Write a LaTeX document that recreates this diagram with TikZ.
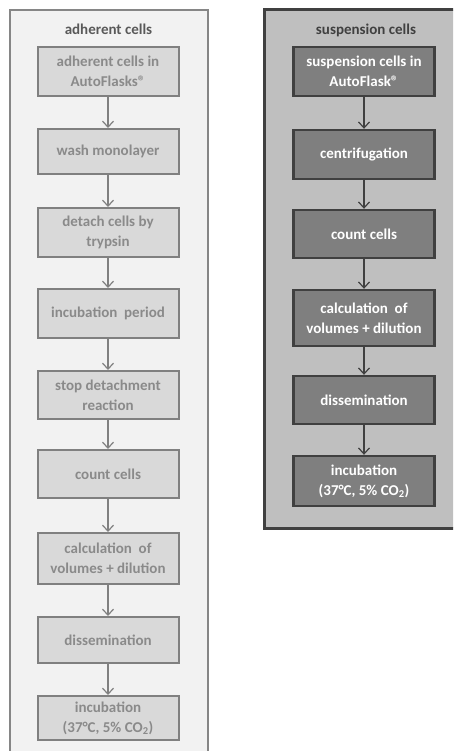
\documentclass[tikz,border=0pt]{standalone}
\usepackage{fontspec}
\setmainfont{Carlito}
\usepackage{xcolor}
\usetikzlibrary{arrows.meta}

\definecolor{adhframe}{HTML}{868686}
\definecolor{adhback}{HTML}{F2F2F2}
\definecolor{adhbox}{HTML}{D9D9D9}
\definecolor{adhline}{HTML}{808080}
\definecolor{adhtext}{HTML}{8A8A8A}
\definecolor{adhtitle}{HTML}{595959}
\definecolor{susframe}{HTML}{404040}
\definecolor{susback}{HTML}{BFBFBF}
\definecolor{susbox}{HTML}{7F7F7F}

\begin{document}
\begin{tikzpicture}[x=1pt,y=-1pt,
  adhstep/.style={draw=adhline,line width=2pt,fill=adhbox,text=adhtext,
    minimum width=141pt,minimum height=48pt,align=center,inner sep=0pt,
    font=\bfseries\fontsize{15}{20}\selectfont},
  susstep/.style={draw=susframe,line width=2.4pt,fill=susbox,text=white,
    minimum width=141pt,minimum height=48pt,align=center,inner sep=0pt,
    font=\bfseries\fontsize{15}{20}\selectfont},
  adharrow/.style={draw=adhline,line width=1.2pt,-{Straight Barb[length=6pt,width=11pt]}},
  susarrow/.style={draw=susframe,line width=1.2pt,-{Straight Barb[length=6pt,width=11pt]}}]
 \useasboundingbox (0,0) rectangle (453,751);
 \begin{scope}
 \clip (0,0) rectangle (453,751);
 \draw[adhframe,line width=2.5pt,fill=adhback] (10,10) rectangle (208,770);
 \draw[susframe,line width=3pt,fill=susback] (264,10) rectangle (470,528);
 \end{scope}

 \node[text=adhtitle,font=\bfseries\fontsize{15}{16}\selectfont] (adhtitle) at (108.5,29) {adherent cells};
 \node[adhstep,minimum height=49pt] (a1) at (108,71.5) {adherent cells in\\AutoFlasks®};
 \node[adhstep,minimum height=45pt] (a2) at (108,151.5) {wash monolayer};
 \node[adhstep,minimum height=49pt] (a3) at (108,232.5) {detach cells by\\trypsin};
 \node[adhstep,minimum height=49pt] (a4) at (108,313.5) {incubation~~period};
 \node[adhstep] (a5) at (108,395) {stop detachment\\reaction};
 \node[adhstep] (a6) at (108,474) {count cells};
 \node[adhstep,minimum height=51pt] (a7) at (108,558.5) {calculation~~of\\volumes + dilution};
 \node[adhstep,minimum height=46pt] (a8) at (108,640) {dissemination};
 \node[adhstep,minimum height=44pt] (a9) at (108,718) {incubation\\(37°C, 5\% CO\textsubscript{2})};
 \foreach \i/\j in {a1/a2,a2/a3,a3/a4,a4/a5,a5/a6,a6/a7,a7/a8,a8/a9}
  \draw[adharrow] (\i.south) -- (\j.north);

 \node[text=susframe,font=\bfseries\fontsize{15}{16}\selectfont] (sustitle) at (366,30) {suspension cells};
 \node[susstep,minimum height=49pt] (s1) at (364,71.5) {suspension cells in\\AutoFlask®};
 \node[susstep,minimum height=49pt] (s2) at (364,154.5) {centrifugation};
 \node[susstep] (s3) at (364,234) {count cells};
 \node[susstep,minimum height=56pt] (s4) at (364,318) {calculation~~of\\volumes + dilution};
 \node[susstep] (s5) at (364,400) {dissemination};
 \node[susstep,minimum height=50pt] (s6) at (364,481) {incubation\\(37°C, 5\% CO\textsubscript{2})};
 \foreach \i/\j in {s1/s2,s2/s3,s3/s4,s4/s5,s5/s6}
  \draw[susarrow] (\i.south) -- (\j.north);
\end{tikzpicture}
\end{document}
